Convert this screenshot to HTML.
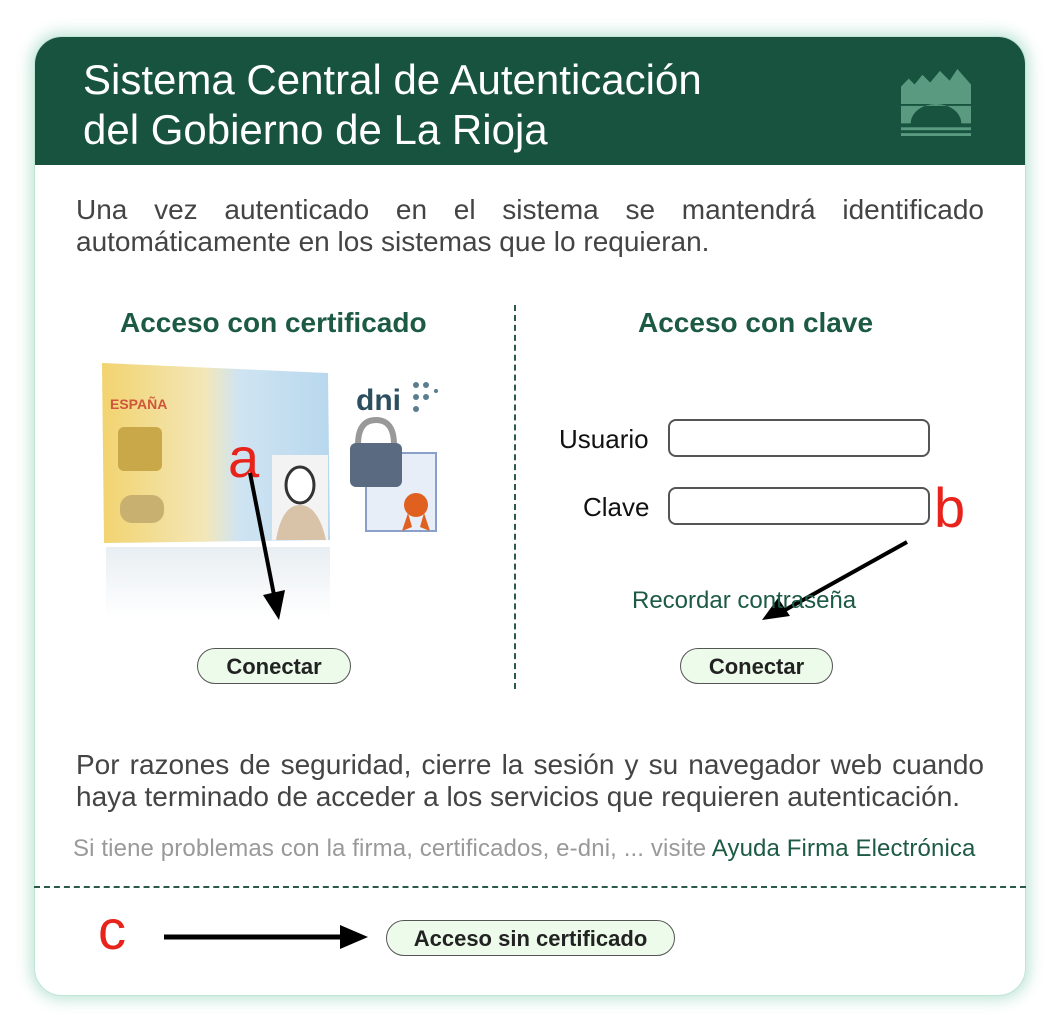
<!DOCTYPE html>
<html><head><meta charset="utf-8"><style>
body{margin:0;width:1048px;height:1034px;background:#fff;position:relative;font-family:"Liberation Sans",Arial,sans-serif;overflow:hidden}
.box{position:absolute;left:34px;top:36px;width:992px;height:960px;border-radius:28px;background:#fff;box-shadow:0 0 14px 4px rgba(120,200,170,.45);border:1px solid #bfe5d5;box-sizing:border-box;overflow:hidden}
.hdr{position:absolute;left:0;top:0;width:100%;height:128px;background:#17533f}
.t{position:absolute;color:#fff;font-size:42px;left:48px;line-height:50px;top:18px;white-space:nowrap}
.a{position:absolute;white-space:nowrap}
.p{position:absolute;left:76px;width:908px;font-size:28px;color:#444;line-height:32px;text-align:justify;text-align-last:left}
h2{position:absolute;margin:0;font-size:28px;color:#1d5a44;font-weight:bold;white-space:nowrap}
.btn{position:absolute;height:36px;border:1.5px solid #555;border-radius:18px;background:#ecfbea;font-weight:bold;font-size:22px;color:#222;text-align:center;line-height:35px;box-sizing:border-box;white-space:nowrap}
.inp{position:absolute;left:668px;width:262px;height:38px;border:2px solid #555;border-radius:8px;box-sizing:border-box}
.lb{position:absolute;font-size:26px;color:#111}
.red{position:absolute;color:#e8231b;font-size:56px;line-height:56px}
</style></head><body>
<div class="box">
<div class="hdr"><div class="t">Sistema Central de Autenticación<br>del Gobierno de La Rioja</div>
<svg style="position:absolute;left:864px;top:30px" width="74" height="70" viewBox="0 0 76 72"><g fill="#5a9a80"><path d="M2 20 L10 12 L16 18 L24 8 L32 16 L42 4 L52 14 L60 2 L74 18 L74 38 L2 38Z"/><path d="M2 40 H74 V58 H64 A26 20 0 0 0 12 58 H2Z"/><rect x="2" y="62" width="72" height="3"/><rect x="2" y="68" width="72" height="3"/></g></svg>
</div>
</div>
<div class="p" style="top:194px">Una vez autenticado en el sistema se mantendrá identificado automáticamente en los sistemas que lo requieran.</div>
<h2 style="left:120px;top:307px">Acceso con certificado</h2>
<h2 style="left:638px;top:307px">Acceso con clave</h2>
<div class="a" style="left:514px;top:305px;height:384px;border-left:2px dashed #2a5a48"></div>
<svg class="a" style="left:96px;top:355px" width="360" height="270" viewBox="0 0 360 270">
<defs><linearGradient id="g" x1="0" x2="1"><stop offset="0" stop-color="#f2d36f"/><stop offset=".45" stop-color="#f3e7b8"/><stop offset=".6" stop-color="#cfe4f2"/><stop offset="1" stop-color="#b8d8ee"/></linearGradient>
<linearGradient id="f" x1="0" y1="0" x2="0" y2="1"><stop offset="0" stop-color="#e8eef2"/><stop offset="1" stop-color="#fff"/></linearGradient></defs>
<path d="M6 8 L232 18 L234 185 L8 188Z" fill="url(#g)"/>
<rect x="10" y="192" width="224" height="70" fill="url(#f)"/>
<text x="14" y="54" font-size="14" font-weight="bold" fill="#d0553a" font-family="Liberation Sans">ESPAÑA</text>
<rect x="22" y="72" width="44" height="44" rx="6" fill="#c9a84a"/>
<rect x="24" y="140" width="44" height="28" rx="12" fill="#c8b070"/>
<rect x="176" y="100" width="56" height="85" fill="#f3f3f3"/>
<ellipse cx="204" cy="130" rx="14" ry="18" fill="#fff" stroke="#333" stroke-width="3"/>
<path d="M180 185 Q186 150 204 150 Q222 150 230 185Z" fill="#d8c2a8"/>
<text x="260" y="55" font-size="30" font-weight="bold" fill="#2c4f60" font-family="Liberation Sans">dni</text>
<g fill="#5a7d90"><circle cx="320" cy="30" r="3"/><circle cx="330" cy="30" r="3"/><circle cx="320" cy="42" r="3"/><circle cx="330" cy="42" r="3"/><circle cx="340" cy="36" r="2"/><circle cx="320" cy="54" r="3"/></g>
<rect x="270" y="98" width="70" height="78" fill="#e8eef8" stroke="#8aa0c8" stroke-width="2"/>
<path d="M262 90 Q262 65 280 65 Q298 65 298 90" fill="none" stroke="#999" stroke-width="6"/>
<rect x="254" y="88" width="52" height="44" rx="6" fill="#5a6a80"/>
<circle cx="320" cy="150" r="12" fill="#e06020"/>
<path d="M312 158 L306 176 L316 172Z M328 158 L334 176 L324 172Z" fill="#e06020"/>
</svg>
<div class="red" style="left:228px;top:430px">a</div>
<svg class="a" style="left:0;top:0" width="1048" height="1034">
<line x1="250" y1="473" x2="275" y2="600" stroke="#000" stroke-width="4"/><path d="M263 595 L285 590 L279 620Z" fill="#000"/>
<line x1="907" y1="542" x2="785" y2="610" stroke="#000" stroke-width="4"/><path d="M762 620 L778 598 L790 616Z" fill="#000"/>
<line x1="164" y1="937" x2="345" y2="937" stroke="#000" stroke-width="5"/><path d="M340 925 L368 937 L340 949Z" fill="#000"/>
</svg>
<div class="lb" style="left:559px;top:424px">Usuario</div>
<div class="inp" style="top:419px"></div>
<div class="lb" style="left:583px;top:492px">Clave</div>
<div class="inp" style="top:487px"></div>
<div class="red" style="left:934px;top:480px">b</div>
<div class="a" style="left:632px;top:587px;font-size:24px;color:#1d5a44">Recordar contraseña</div>
<div class="btn" style="left:197px;top:648px;width:154px">Conectar</div>
<div class="btn" style="left:680px;top:648px;width:153px">Conectar</div>
<div class="p" style="top:749px">Por razones de seguridad, cierre la sesión y su navegador web cuando haya terminado de acceder a los servicios que requieren autenticación.</div>
<div class="a" style="left:73px;top:835px;font-size:24px;color:#999;letter-spacing:0.12px">Si tiene problemas con la firma, certificados, e-dni, ... visite <span style="color:#1d5a44">Ayuda Firma Electrónica</span></div>
<div class="a" style="left:34px;top:886px;width:992px;border-top:2px dashed #2a5a48"></div>
<div class="red" style="left:98px;top:902px">c</div>
<div class="btn" style="left:386px;top:920px;width:289px">Acceso sin certificado</div>
</body></html>
